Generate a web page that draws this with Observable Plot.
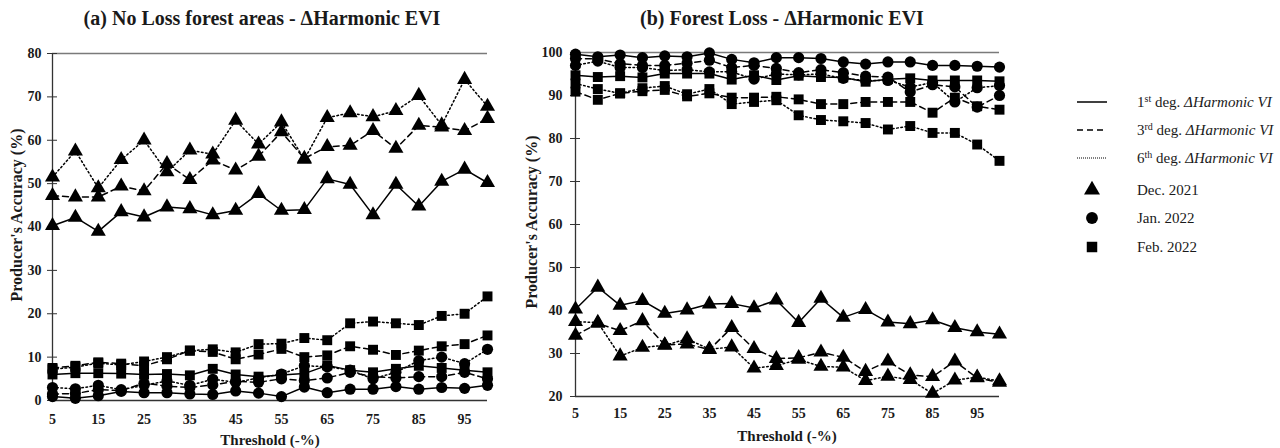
<!DOCTYPE html>
<html><head><meta charset="utf-8">
<script src="https://cdn.jsdelivr.net/npm/d3@7"></script>
<script src="https://cdn.jsdelivr.net/npm/@observablehq/plot@0.6"></script>
<style>
body{margin:0;background:#fff;}
#root{position:relative;width:1280px;height:448px;overflow:hidden;font-family:"Liberation Serif","DejaVu Serif",serif;color:#1a1a1a}
.abs{position:absolute;white-space:nowrap}
.title{font-weight:bold;font-size:20px;transform:translate(-50%,-50%)}
.xlab{font-weight:bold;font-size:15px;transform:translate(-50%,-50%)}
.ylab{font-weight:bold;font-size:16px;transform:translate(-50%,-50%) rotate(-90deg)}
.leg{font-size:15px;transform:translateY(-50%)}
.leg sup{font-size:10px;vertical-align:5px;line-height:0}
</style></head>
<body><div id="root"></div>
<script>
// ---------- data ----------
const thresholds = [5,10,15,20,25,30,35,40,45,50,55,60,65,70,75,80,85,90,95,100];
const xTickLabels = [5,15,25,35,45,55,65,75,85,95];
const months = ["Dec. 2021","Jan. 2022","Feb. 2022"];
const degrees = ["1st","3rd","6th"];

// (a) No Loss forest areas
const a_dec_1 = [40.3,42.2,39.0,43.5,42.3,44.6,44.2,42.8,43.8,47.7,43.8,44.0,51.1,49.8,42.8,49.8,44.8,50.5,53.3,50.2];
const a_dec_3 = [47.2,46.9,46.9,49.4,48.3,54.6,50.9,55.4,53.1,56.3,61.9,55.8,58.5,58.8,62.2,58.1,63.4,63.0,62.2,65.0];
const a_dec_6 = [51.5,57.5,49.0,55.5,60.0,52.7,57.7,56.8,64.6,59.1,64.2,55.6,65.2,66.3,65.4,66.8,70.3,63.5,74.0,67.8];
const a_jan_1 = [0.9,0.5,1.1,2.1,1.8,1.8,1.5,1.4,2.2,1.7,0.9,3.1,1.8,2.6,2.6,3.2,2.6,3.0,2.8,3.5];
const a_jan_3 = [1.5,1.6,2.5,2.3,4.0,3.3,3.0,3.6,4.4,4.2,5.0,4.6,5.2,6.5,5.5,5.2,5.5,5.5,6.5,5.0];
const a_jan_6 = [3.0,2.7,3.5,2.5,3.5,4.5,3.5,4.9,4.2,5.2,6.1,8.0,7.8,7.0,5.0,6.5,9.2,10.0,8.5,11.8];
const a_feb_1 = [6.0,6.3,6.3,6.2,6.0,6.1,5.8,7.3,6.0,5.5,5.9,6.2,8.1,7.0,6.5,7.3,8.0,7.5,7.0,6.5];
const a_feb_3 = [7.5,8.0,8.8,8.5,8.0,9.5,11.5,11.2,9.5,10.6,11.9,10.0,10.4,12.5,11.7,10.5,11.5,12.5,13.0,15.0];
const a_feb_6 = [7.2,7.7,8.6,8.2,9.0,10.0,11.5,11.8,11.1,13.0,13.1,14.4,13.9,17.8,18.2,17.8,17.4,19.5,20.0,24.0];

// (b) Forest Loss
const b_dec_1 = [40.3,45.4,41.2,42.3,39.3,40.1,41.5,41.6,40.6,42.4,37.2,42.8,38.4,40.2,37.3,36.9,37.8,36.0,35.0,34.5];
const b_dec_3 = [34.2,37.0,35.3,37.6,32.0,32.2,30.9,36.0,31.1,28.8,29.0,30.3,29.1,25.8,28.2,25.0,24.6,28.2,24.3,23.3];
const b_dec_6 = [37.4,37.2,29.4,31.4,31.9,33.4,31.0,31.5,26.6,27.2,28.6,27.0,26.8,23.7,24.7,23.9,20.7,23.8,24.5,23.6];
const b_jan_1 = [99.6,99.0,99.4,98.8,99.2,99.0,99.9,98.4,97.6,98.8,98.8,98.6,97.8,97.3,97.8,97.8,97.0,97.0,96.8,96.6];
const b_jan_3 = [98.6,98.5,97.4,97.0,97.0,97.5,98.2,96.5,97.0,96.3,95.3,96.0,95.3,94.5,94.3,90.8,92.5,92.0,87.3,90.0];
const b_jan_6 = [97.0,98.0,96.5,96.5,95.8,96.0,95.5,95.5,93.8,95.0,94.8,95.0,94.0,93.5,93.5,92.0,93.0,88.5,91.8,92.3];
const b_feb_1 = [94.7,94.3,94.5,94.2,95.1,95.1,95.1,93.7,94.7,93.6,94.6,94.3,94.2,93.2,93.8,94.0,93.5,93.5,93.5,93.3];
const b_feb_3 = [90.9,89.0,90.5,91.0,91.3,89.8,90.5,89.5,89.5,89.7,89.1,88.0,88.0,88.5,88.5,88.5,86.0,89.5,87.5,86.7];
const b_feb_6 = [92.8,91.5,90.5,91.7,92.2,90.3,91.5,88.0,88.5,88.9,85.4,84.3,84.0,83.6,82.1,82.9,81.3,81.3,78.6,74.8];

const aTicks = [0,10,20,30,40,50,60,70,80];
const bTicks = [20,30,40,50,60,70,80,90,100];

// ---------- build tidy tables ----------
function tidy(series) {
  const rows = [];
  series.forEach(([month, deg, vals]) => {
    vals.forEach((v, i) => rows.push({t: thresholds[i], v, month, deg, key: month + "|" + deg}));
  });
  return rows;
}
const dataA = tidy([
  [months[0], "1st", a_dec_1], [months[0], "3rd", a_dec_3], [months[0], "6th", a_dec_6],
  [months[1], "1st", a_jan_1], [months[1], "3rd", a_jan_3], [months[1], "6th", a_jan_6],
  [months[2], "1st", a_feb_1], [months[2], "3rd", a_feb_3], [months[2], "6th", a_feb_6]
]);
const dataB = tidy([
  [months[0], "1st", b_dec_1], [months[0], "3rd", b_dec_3], [months[0], "6th", b_dec_6],
  [months[1], "1st", b_jan_1], [months[1], "3rd", b_jan_3], [months[1], "6th", b_jan_6],
  [months[2], "1st", b_feb_1], [months[2], "3rd", b_feb_3], [months[2], "6th", b_feb_6]
]);

const dashes = {"1st": null, "3rd": "6,4", "6th": "1.6,2.6"};

function panel(data, yDomain, yTicks, o) {
  const lineMarks = degrees.map(deg =>
    Plot.line(data.filter(d => d.deg === deg), {
      x: "t", y: "v", z: "key", stroke: "#000", strokeWidth: 1.5,
      strokeDasharray: dashes[deg]
    }));
  return Plot.plot({
    width: o.width, height: 448,
    marginLeft: o.ml, marginRight: o.mr, marginTop: o.mt, marginBottom: o.mb,
    style: {fontFamily: '"Liberation Serif", serif', fontSize: "14px", fontWeight: "bold", color: "#1a1a1a", background: "transparent", overflow: "visible"},
    x: {domain: [5, 100]},
    y: {domain: yDomain},
    symbol: {domain: months, range: ["triangle", "circle", "square"]},
    marks: [
      Plot.ruleY([yDomain[1]], {stroke: "#7a7a7a", strokeWidth: 1.6}),
      Plot.ruleY([yDomain[0]], {stroke: "#333", strokeWidth: 1.3}),
      Plot.ruleX([5], {stroke: "#333", strokeWidth: 1.3}),
      Plot.axisY({ticks: yTicks, tickSize: 10, dx: 5, tickFormat: () => "", label: null, stroke: "#333"}),
      Plot.axisY({ticks: yTicks, tickSize: 0, tickPadding: o.ypad, label: null}),
      Plot.axisX({ticks: xTickLabels, tickSize: 0, tickPadding: o.xpad, label: null}),
      ...lineMarks,
      Plot.dot(data, {x: "t", y: "v", symbol: "month", fill: "#000", stroke: "none", r: 5.6})
    ]
  });
}

const root = document.getElementById("root");
const pa = panel(dataA, [0, 80], aTicks, {width: 500, ml: 52, mr: 13, mt: 53, mb: 48, ypad: 11, xpad: 14});
pa.style.position = "absolute"; pa.style.left = "0px"; pa.style.top = "0px";
root.appendChild(pa);
const pb = panel(dataB, [20, 100], bTicks, {width: 510, ml: 75, mr: 11, mt: 52, mb: 52, ypad: 13, xpad: 12});
pb.style.position = "absolute"; pb.style.left = "500px"; pb.style.top = "0px";
root.appendChild(pb);

function addDiv(cls, html, x, y) {
  const d = document.createElement("div");
  d.className = "abs " + cls;
  d.innerHTML = html;
  d.style.left = x + "px"; d.style.top = y + "px";
  root.appendChild(d);
  return d;
}
addDiv("title", "(a) No Loss forest areas - ΔHarmonic EVI", 262, 18);
addDiv("title", "(b) Forest Loss - ΔHarmonic EVI", 782, 18);
addDiv("xlab", "Threshold (-%)", 270, 440);
addDiv("xlab", "Threshold (-%)", 787, 436);
addDiv("ylab", "Producer's Accuracy (%)", 17, 215);
addDiv("ylab", "Producer's Accuracy (%)", 532, 222);

// ---------- legend ----------
const legendLines = [
  {deg: "1st", html: '1<sup>st</sup> deg. <i>ΔHarmonic VI</i>', y: 102},
  {deg: "3rd", html: '3<sup>rd</sup> deg. <i>ΔHarmonic VI</i>', y: 130},
  {deg: "6th", html: '6<sup>th</sup> deg. <i>ΔHarmonic VI</i>', y: 158}
];
const legendSyms = [
  {month: months[0], y: 190}, {month: months[1], y: 218}, {month: months[2], y: 247}
];
const ns = "http://www.w3.org/2000/svg";
const lsvg = document.createElementNS(ns, "svg");
lsvg.setAttribute("width", 60); lsvg.setAttribute("height", 448);
lsvg.style.position = "absolute"; lsvg.style.left = "1060px"; lsvg.style.top = "0px";
root.appendChild(lsvg);
legendLines.forEach(l => {
  const ln = document.createElementNS(ns, "line");
  ln.setAttribute("x1", 17); ln.setAttribute("x2", 47);
  ln.setAttribute("y1", l.y); ln.setAttribute("y2", l.y);
  ln.setAttribute("stroke", "#000");
  ln.setAttribute("stroke-width", l.deg === "6th" ? 1 : 1.5);
  if (dashes[l.deg]) ln.setAttribute("stroke-dasharray", l.deg === "6th" ? "1,1" : dashes[l.deg]);
  lsvg.appendChild(ln);
  addDiv("leg", l.html, 1137, l.y);
});
const symPath = {
  [months[0]]: d3.symbol(d3.symbolTriangle, 110)(),
  [months[1]]: d3.symbol(d3.symbolCircle, 110)(),
  [months[2]]: d3.symbol(d3.symbolSquare, 110)()
};
legendSyms.forEach(s => {
  const p = document.createElementNS(ns, "path");
  p.setAttribute("d", symPath[s.month]);
  p.setAttribute("transform", `translate(32,${s.y})`);
  p.setAttribute("fill", "#000");
  lsvg.appendChild(p);
  addDiv("leg", s.month, 1137, s.y);
});
</script>
</body></html>
